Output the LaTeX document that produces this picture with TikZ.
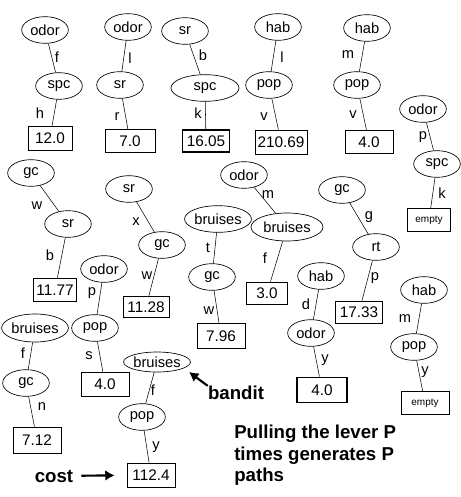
\documentclass[tikz,border=0pt]{standalone}
\usepackage{fontspec}
\setmainfont{Liberation Sans}
\usetikzlibrary{arrows.meta,shapes.geometric}

\begin{document}
\begin{tikzpicture}[x=0.75pt,y=-0.75pt,
    attr/.style={ellipse,draw,line width=0.5pt,minimum width=35pt,minimum height=20pt,inner sep=0pt,font=\fontsize{11}{13}\selectfont},
    leaf/.style={draw,line width=0.6pt,minimum width=36pt,minimum height=17.5pt,inner sep=1pt,font=\fontsize{11.5}{13}\selectfont},
    lbl/.style={font=\fontsize{11}{13}\selectfont,inner sep=0pt},
    big/.style={font=\fontsize{14}{16}\selectfont\bfseries,inner sep=0pt}]
  \useasboundingbox (0,0) rectangle (461,497);
  % top row
  \node[attr] (o1) at (45,30) {odor};
  \node[attr] (s1) at (59,86) {spc};
  \node[leaf,minimum width=33pt,minimum height=18pt] (v1) at (50,138) {12.0};
  \draw (o1) -- (s1); \node[lbl] at (57,57) {f};
  \draw (s1) -- (v1); \node[lbl] at (40,113) {h};

  \node[attr] (o2) at (128,27) {odor};
  \node[attr] (s2) at (120,85) {sr};
  \node[leaf,minimum width=37.5pt] (v2) at (130,141) {7.0};
  \draw (o2) -- (s2); \node[lbl] at (130,58) {l};
  \draw (s2) -- (v2); \node[lbl] at (117,117) {r};

  \node[attr] (o3) at (185,31) {sr};
  \node[attr,minimum width=51pt] (s3) at (205,88) {spc};
  \node[leaf,line width=1.1pt,minimum width=35pt,minimum height=16.5pt] (v3) at (206,141) {16.05};
  \draw (o3) -- (s3); \node[lbl] at (203,55) {b};
  \draw (s3) -- (v3); \node[lbl] at (198,113) {k};

  \node[attr] (o4) at (278,27) {hab};
  \node[attr] (s4) at (269,85) {pop};
  \node[leaf,minimum width=39pt,minimum height=18pt] (v4) at (281,142) {210.69};
  \draw (o4) -- (s4); \node[lbl] at (282,57) {l};
  \draw (s4) -- (v4); \node[lbl] at (264,117) {v};

  \node[attr] (o5) at (367,28) {hab};
  \node[attr] (s5) at (357,85) {pop};
  \node[leaf] (v5) at (369,142) {4.0};
  \draw (o5) -- (s5); \node[lbl] at (348,55) {m};
  \draw (s5) -- (v5); \node[lbl] at (353,115) {v};

  \node[attr] (o6) at (423,109) {odor};
  \node[attr] (s6) at (437,164) {spc};
  \node[leaf,minimum width=32pt,font=\fontsize{7.5}{9}\selectfont] (v6) at (429,220) {empty};
  \draw (o6) -- (s6); \node[lbl] at (423,137) {p};
  \draw (s6) -- (v6); \node[lbl] at (442,193) {k};

  % middle and bottom
  \node[attr] (o7) at (31,173) {gc};
  \node[attr] (s7) at (68,224) {sr};
  \node[leaf,line width=1.1pt,minimum width=32pt] (v7) at (55,290) {11.77};
  \draw (o7) -- (s7); \node[lbl] at (37,206) {w};
  \draw (s7) -- (v7); \node[lbl] at (50,255) {b};

  \node[attr] (o8) at (129,189) {sr};
  \node[attr] (s8) at (162,245) {gc};
  \node[leaf,minimum width=34.5pt,minimum height=16pt] (v8) at (146,307) {11.28};
  \draw (o8) -- (s8); \node[lbl] at (136,222) {x};
  \draw (s8) -- (v8); \node[lbl] at (147,276) {w};

  \node[attr] (o9) at (104,269) {odor};
  \node[attr] (s9) at (95,328) {pop};
  \node[leaf,minimum height=18pt] (v9) at (105,384) {4.0};
  \draw (o9) -- (s9); \node[lbl] at (92,293) {p};
  \draw (s9) -- (v9); \node[lbl] at (89,356) {s};

  \node[attr,minimum width=49.5pt,minimum height=21pt] (o10) at (35,328) {bruises};
  \node[attr] (s10) at (26,383) {gc};
  \node[leaf,minimum height=19.5pt] (v10) at (37,440) {7.12};
  \draw (o10) -- (s10); \node[lbl] at (23,353) {f};
  \draw (s10) -- (v10); \node[lbl] at (42,407) {n};

  \node[attr,minimum width=46.5pt,minimum height=15pt] (o11) at (157,362) {bruises};
  \node[attr] (s11) at (142,417) {pop};
  \node[leaf,minimum height=18pt] (v11) at (151,475) {112.4};
  \draw (o11) -- (s11); \node[lbl] at (153,390) {f};
  \draw (s11) -- (v11); \node[lbl] at (156,447) {y};

  \node[attr,minimum width=48pt] (o12) at (218,219) {bruises};
  \node[attr] (s12) at (212,277) {gc};
  \node[leaf,minimum height=19pt] (v12) at (221,336) {7.96};
  \draw (o12) -- (s12); \node[lbl] at (208,248) {t};
  \draw (s12) -- (v12); \node[lbl] at (209,311) {w};

  \node[attr] (o13) at (244,175) {odor};
  \node[attr,minimum width=54pt,minimum height=21pt] (s13) at (287,227) {bruises};
  \node[leaf,minimum width=31pt,minimum height=16.5pt] (v13) at (267,293) {3.0};
  \draw (o13) -- (s13); \node[lbl] at (268,195) {m};
  \draw (s13) -- (v13); \node[lbl] at (265,258) {f};

  \node[attr] (o14) at (342,190) {gc};
  \node[attr] (s14) at (376,247) {rt};
  \node[leaf,minimum width=35pt,minimum height=16.5pt] (v14) at (359,312) {17.33};
  \draw (o14) -- (s14); \node[lbl] at (369,217) {g};
  \draw (s14) -- (v14); \node[lbl] at (375,278) {p};

  \node[attr] (o15) at (321,276) {hab};
  \node[attr] (s15) at (311,333) {odor};
  \node[leaf,line width=1.1pt,minimum width=37.5pt,minimum height=19pt] (v15) at (322,390) {4.0};
  \draw (o15) -- (s15); \node[lbl] at (306,304) {d};
  \draw (s15) -- (v15); \node[lbl] at (325,360) {y};

  \node[attr] (o16) at (424,290) {hab};
  \node[attr] (s16) at (414,347) {pop};
  \node[leaf,font=\fontsize{7.5}{9}\selectfont] (v16) at (425,403) {empty};
  \draw (o16) -- (s16); \node[lbl] at (405,319) {m};
  \draw (s16) -- (v16); \node[lbl] at (425,372) {y};

  % annotations
  \node[big] (cost) at (54,476) {cost};
  \draw[line width=1.6pt,-{Latex[length=7pt,width=8pt]},shorten <=6pt,shorten >=9pt] (cost) -- (v11);
  \node[big] (bandit) at (236,393) {bandit};
  \coordinate (tip) at (189,372);
  \draw[line width=1.6pt,-{Latex[length=7pt,width=8pt]}] (bandit.north west) -- (tip);
  \node[big,anchor=north west,align=left] (note) at (234,425) {Pulling the lever P\\times generates P\\paths};
\end{tikzpicture}
\end{document}
